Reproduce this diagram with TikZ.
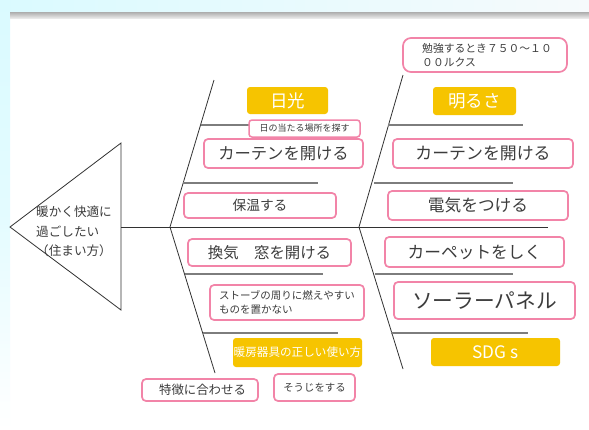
\documentclass[tikz,border=0pt]{standalone}
\usepackage{fontspec}
\setmainfont{Noto Sans CJK JP}
\definecolor{pinkc}{RGB}{242,132,168}
\definecolor{yelc}{RGB}{246,196,0}
\definecolor{txtc}{RGB}{60,60,60}
\definecolor{ribc}{RGB}{125,125,125}
\definecolor{spinec}{RGB}{50,50,50}
\definecolor{cyanL}{RGB}{218,250,255}
\definecolor{cyanR}{RGB}{246,250,252}
\definecolor{bandA}{RGB}{178,178,178}
\definecolor{bandB}{RGB}{238,238,238}
\tikzset{
  pinkbox/.style={draw=pinkc, line width=1.7pt, rounded corners=4pt, fill=white, inner sep=0pt, text=txtc},
  yelbox/.style={fill=yelc, rounded corners=3pt, inner sep=0pt, text=white},
  rib/.style={draw=ribc, line width=1.4pt},
  spine/.style={draw=spinec, line width=0.8pt},
}
\newcommand\fsz[2]{\fontsize{#1}{#2}\selectfont}
\begin{document}
\begin{tikzpicture}[x=1pt,y=-1pt]
\useasboundingbox (0,0) rectangle (589,429);
\fill[white] (0,0) rectangle (589,429);
\shade[left color=cyanL, right color=cyanR] (0,0) rectangle (589,12.5);
\shade[top color=cyanL, bottom color=white, middle color=cyanL!75!white] (0,0) rectangle (10,429);
\shade[top color=bandA, bottom color=bandB] (10,12.5) rectangle (589,18.5);

% triangle (head)
\coordinate (tipL) at (10,227);
\coordinate (triT) at (121,143);
\coordinate (triB) at (121,310);
\coordinate (mainE) at (548,227);
\draw[spine] (tipL) -- (triT) -- (triB) -- cycle;
\draw[spine] (121,227) -- (mainE);

% spines
\coordinate (lsT) at (214,80);
\coordinate (lsM) at (170,227);
\coordinate (lsB) at (215,373);
\coordinate (rsT) at (403,75);
\coordinate (rsM) at (359,227);
\coordinate (rsB) at (403,369);
\draw[spine] (lsT) -- (lsM) -- (lsB);
\draw[spine] (rsT) -- (rsM) -- (rsB);

% ribs left
\draw[rib] (201,125) -- (330,125);
\draw[rib] (183,183) -- (318,183);
\draw[rib] (185,274) -- (323,274);
\draw[rib] (203,333) -- (338,333);
% ribs right
\draw[rib] (388,125) -- (523,125);
\draw[rib] (374,183) -- (513,183);
\draw[rib] (375,274) -- (513,274);
\draw[rib] (391,333) -- (528,333);

% head text
\node[text=txtc, align=left, anchor=west, inner sep=0pt, font=\fsz{12.6}{19.5}] (head) at (36,231.5)
  {暖かく快適に\\過ごしたい\\（住まい方）};

% left boxes
\node[yelbox, minimum width=81pt, minimum height=27pt, font=\fsz{17.5}{20}] (nikko) at (287.5,100.5) {日光};
\node[pinkbox, line width=1.5pt, rounded corners=3pt, minimum width=111pt, minimum height=17pt, font=\fsz{9}{10}] (hiatari) at (304.5,128.5) {日の当たる場所を探す};
\node[pinkbox, minimum width=159pt, minimum height=29pt, font=\fsz{16.3}{18}] (curtL) at (283.5,153.5) {カーテンを開ける};
\node[pinkbox, minimum width=152pt, minimum height=25pt, font=\fsz{13.7}{16}] (hoon) at (260,205.5) {保温する};
\node[pinkbox, minimum width=163pt, minimum height=27pt, font=\fsz{15.4}{18}] (kanki) at (269.5,252.5) {換気　窓を開ける};
\node[pinkbox, minimum width=154pt, minimum height=35pt, font=\fsz{10.5}{14.5}, align=left] (stove) at (287,302.5) {ストーブの周りに燃えやすい\\ものを置かない};
\node[yelbox, minimum width=129pt, minimum height=29pt, font=\fsz{11.6}{14}] (danbo) at (297.5,352.5) {暖房器具の正しい使い方};
\node[pinkbox, minimum width=116pt, minimum height=22pt, font=\fsz{12.4}{14}] (tokucho) at (200,390) {\hspace*{5pt}特徴に合わせる};
\node[pinkbox, minimum width=81pt, minimum height=27pt, font=\fsz{10.4}{12}] (souji) at (314.5,387.5) {そうじをする};

% right boxes
\node[pinkbox, rounded corners=8pt, minimum width=164pt, minimum height=34pt, font=\fsz{10.8}{14.5}, align=left] (benkyo) at (485,55) {\hspace*{4pt}勉強するとき７５０～１０\\\hspace*{4pt}００ルクス};
\node[yelbox, minimum width=83pt, minimum height=28pt, font=\fsz{17.5}{20}] (akarusa) at (474.5,101) {明るさ};
\node[pinkbox, minimum width=180pt, minimum height=29pt, font=\fsz{16.9}{19}] (curtR) at (483,153.5) {カーテンを開ける};
\node[pinkbox, minimum width=180pt, minimum height=29pt, font=\fsz{16.7}{19}] (denki) at (478,205.5) {電気をつける};
\node[pinkbox, minimum width=179pt, minimum height=30pt, font=\fsz{16.7}{19}] (carpet) at (474.5,252) {カーペットをしく};
\node[pinkbox, minimum width=181pt, minimum height=37pt, font=\fsz{20.7}{23}] (solar) at (484.5,300.5) {ソーラーパネル};
\node[yelbox, minimum width=129pt, minimum height=28pt, font=\fsz{17.2}{19}] (sdgs) at (495.5,352) {SDG s};
\end{tikzpicture}
\end{document}
